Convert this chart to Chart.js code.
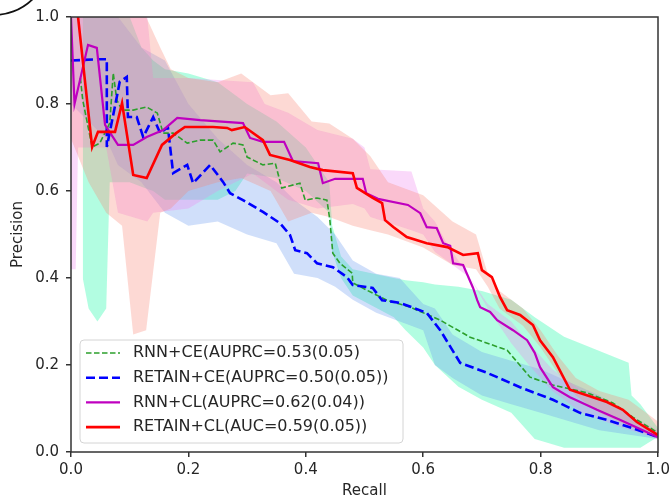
<!DOCTYPE html>
<html>
<head>
<meta charset="utf-8">
<script src="https://cdn.jsdelivr.net/npm/chart.js@4.4.1/dist/chart.umd.min.js"></script>
<style>
  html, body { margin: 0; padding: 0; background: #fff; }
  #wrap { width: 671px; height: 501px; }
</style>
</head>
<body>
<div id="wrap"><canvas id="prChart" width="671" height="501"></canvas></div>
<script>
// legend labels (same order as in the figure)
const seriesLabels = [
  "RNN+CE(AUPRC=0.53(0.05)",
  "RETAIN+CE(AUPRC=0.50(0.05))",
  "RNN+CL(AUPRC=0.62(0.04))",
  "RETAIN+CL(AUC=0.59(0.05))"
];
const xTicks = [0, 0.2, 0.4, 0.6, 0.8, 1.0];
const yTicks = [0, 0.2, 0.4, 0.6, 0.8, 1.0];

// mean curves
const rnnCeRecall = [0.016, 0.020, 0.036, 0.049, 0.066, 0.072, 0.078, 0.087, 0.106, 0.129, 0.147, 0.157, 0.174, 0.198, 0.220, 0.242, 0.254, 0.276, 0.293, 0.300, 0.327, 0.348, 0.359, 0.390, 0.399, 0.419, 0.436, 0.441, 0.446, 0.458, 0.479, 0.480, 0.504, 0.538, 0.578, 0.629, 0.680, 0.743, 0.782, 0.821, 0.879, 0.923, 0.957, 1.0];
const rnnCePrecision = [0.860, 0.809, 0.701, 0.710, 0.756, 0.871, 0.809, 0.786, 0.786, 0.793, 0.779, 0.733, 0.733, 0.710, 0.717, 0.717, 0.690, 0.710, 0.706, 0.678, 0.660, 0.664, 0.607, 0.618, 0.579, 0.584, 0.579, 0.533, 0.457, 0.434, 0.411, 0.389, 0.372, 0.349, 0.333, 0.303, 0.264, 0.234, 0.172, 0.154, 0.136, 0.113, 0.080, 0.044];

const retainCeRecall = [0.0, 0.049, 0.061, 0.061, 0.078, 0.083, 0.095, 0.097, 0.112, 0.123, 0.140, 0.152, 0.165, 0.174, 0.198, 0.208, 0.237, 0.259, 0.271, 0.293, 0.327, 0.356, 0.373, 0.382, 0.402, 0.419, 0.446, 0.470, 0.480, 0.514, 0.530, 0.560, 0.606, 0.629, 0.663, 0.709, 0.765, 0.821, 0.867, 0.913, 0.952, 1.0];
const retainCePrecision = [0.90, 0.903, 0.903, 0.701, 0.816, 0.851, 0.862, 0.770, 0.770, 0.724, 0.770, 0.733, 0.747, 0.641, 0.660, 0.618, 0.660, 0.621, 0.595, 0.579, 0.552, 0.526, 0.499, 0.464, 0.457, 0.434, 0.425, 0.402, 0.384, 0.377, 0.349, 0.343, 0.320, 0.280, 0.205, 0.182, 0.149, 0.120, 0.090, 0.074, 0.057, 0.034];

const rnnClRecall = [0.0, 0.006, 0.029, 0.044, 0.058, 0.080, 0.106, 0.129, 0.157, 0.181, 0.220, 0.293, 0.305, 0.327, 0.363, 0.378, 0.421, 0.429, 0.450, 0.497, 0.503, 0.523, 0.574, 0.595, 0.606, 0.623, 0.634, 0.646, 0.651, 0.668, 0.685, 0.692, 0.697, 0.714, 0.726, 0.753, 0.777, 0.790, 0.799, 0.821, 0.850, 0.896, 0.935, 1.0];
const rnnClPrecision = [1.0, 0.800, 0.936, 0.929, 0.752, 0.706, 0.706, 0.724, 0.740, 0.768, 0.763, 0.756, 0.722, 0.713, 0.713, 0.669, 0.664, 0.618, 0.628, 0.628, 0.595, 0.582, 0.568, 0.549, 0.517, 0.515, 0.480, 0.474, 0.434, 0.430, 0.377, 0.349, 0.333, 0.322, 0.303, 0.280, 0.257, 0.228, 0.195, 0.149, 0.126, 0.097, 0.074, 0.034];

const retainClRecall = [0.008, 0.036, 0.046, 0.075, 0.087, 0.106, 0.129, 0.155, 0.179, 0.194, 0.242, 0.266, 0.274, 0.296, 0.327, 0.339, 0.373, 0.407, 0.429, 0.480, 0.487, 0.514, 0.530, 0.535, 0.549, 0.572, 0.606, 0.641, 0.668, 0.693, 0.700, 0.717, 0.731, 0.743, 0.765, 0.787, 0.799, 0.821, 0.850, 0.889, 0.913, 0.940, 0.964, 1.0];
const retainClPrecision = [1.05, 0.701, 0.736, 0.736, 0.802, 0.637, 0.630, 0.706, 0.733, 0.747, 0.747, 0.745, 0.740, 0.747, 0.717, 0.683, 0.671, 0.655, 0.648, 0.641, 0.607, 0.584, 0.572, 0.533, 0.517, 0.494, 0.480, 0.471, 0.453, 0.457, 0.418, 0.402, 0.356, 0.326, 0.315, 0.292, 0.257, 0.218, 0.143, 0.126, 0.115, 0.097, 0.069, 0.039];

// spread bands (upper / lower)
const rnnCeBandX = [0.02, 0.03, 0.045, 0.06, 0.066, 0.1, 0.12, 0.14, 0.16, 0.2, 0.25, 0.28, 0.3, 0.35, 0.4, 0.44, 0.445, 0.46, 0.48, 0.55, 0.57, 0.6, 0.62, 0.66, 0.7, 0.75, 0.79, 0.84, 0.95, 0.955, 0.97, 1.0];
const rnnCeUpper = [1.0, 1.0, 1.0, 1.0, 1.0, 1.0, 0.93, 0.90, 0.88, 0.87, 0.85, 0.82, 0.80, 0.76, 0.70, 0.62, 0.52, 0.45, 0.42, 0.40, 0.395, 0.39, 0.385, 0.38, 0.37, 0.35, 0.31, 0.265, 0.205, 0.13, 0.11, 0.055];
const rnnCeLower = [0.40, 0.33, 0.30, 0.33, 0.62, 0.62, 0.61, 0.60, 0.58, 0.58, 0.58, 0.60, 0.64, 0.63, 0.60, 0.55, 0.46, 0.40, 0.36, 0.31, 0.28, 0.24, 0.20, 0.15, 0.12, 0.09, 0.03, 0.01, 0.01, 0.01, 0.01, 0.035];

const retainCeBandX = [0, 0.06, 0.08, 0.12, 0.16, 0.2, 0.25, 0.3, 0.35, 0.38, 0.42, 0.45, 0.48, 0.52, 0.56, 0.6, 0.62, 0.65, 0.7, 0.75, 0.8, 0.9, 1.0];
const retainCeUpper = [1.0, 1.0, 1.0, 0.93, 0.90, 0.80, 0.72, 0.66, 0.62, 0.58, 0.54, 0.50, 0.44, 0.41, 0.40, 0.34, 0.33, 0.27, 0.23, 0.21, 0.19, 0.13, 0.04];
const retainCeLower = [0.80, 0.72, 0.66, 0.62, 0.55, 0.52, 0.53, 0.50, 0.48, 0.41, 0.40, 0.38, 0.35, 0.32, 0.30, 0.28, 0.20, 0.17, 0.13, 0.11, 0.09, 0.05, 0.03];

const rnnClBandX = [0, 0.008, 0.012, 0.06, 0.08, 0.13, 0.14, 0.2, 0.25, 0.31, 0.33, 0.37, 0.42, 0.48, 0.5, 0.51, 0.58, 0.6, 0.62, 0.64, 0.68, 0.71, 0.75, 0.78, 0.82, 0.87, 0.93, 1.0];
const rnnClUpper = [1.0, 1.0, 1.0, 1.0, 1.0, 1.0, 0.86, 0.86, 0.855, 0.85, 0.80, 0.78, 0.74, 0.72, 0.70, 0.65, 0.645, 0.56, 0.53, 0.48, 0.40, 0.34, 0.30, 0.25, 0.19, 0.14, 0.10, 0.05];
const rnnClLower = [0.42, 0.42, 0.70, 0.70, 0.55, 0.53, 0.55, 0.56, 0.60, 0.64, 0.62, 0.58, 0.56, 0.57, 0.56, 0.54, 0.51, 0.50, 0.46, 0.44, 0.40, 0.33, 0.25, 0.20, 0.14, 0.09, 0.06, 0.03];

const retainClBandX = [0, 0.03, 0.06, 0.087, 0.106, 0.128, 0.152, 0.17, 0.2, 0.25, 0.29, 0.34, 0.37, 0.41, 0.44, 0.48, 0.51, 0.54, 0.6, 0.65, 0.69, 0.71, 0.73, 0.77, 0.8, 0.83, 0.86, 0.9, 0.95, 1.0];
const retainClUpper = [1.0, 1.0, 1.0, 1.0, 1.0, 1.0, 0.93, 0.88, 0.86, 0.85, 0.87, 0.82, 0.825, 0.76, 0.755, 0.72, 0.68, 0.62, 0.59, 0.53, 0.50, 0.41, 0.37, 0.33, 0.28, 0.22, 0.17, 0.14, 0.12, 0.07];
const retainClLower = [0.72, 0.62, 0.55, 0.52, 0.27, 0.28, 0.55, 0.56, 0.60, 0.62, 0.63, 0.60, 0.53, 0.55, 0.54, 0.52, 0.51, 0.50, 0.47, 0.43, 0.42, 0.38, 0.33, 0.29, 0.24, 0.18, 0.13, 0.09, 0.06, 0.03];

const lineColors = ["#2ca02c", "#0000ff", "#bf00bf", "#ff0000"];
const bandColors = ["rgba(0,250,154,0.3)", "rgba(100,149,237,0.3)", "rgba(238,130,238,0.3)", "rgba(250,128,114,0.3)"];
const lineWidths = [1.6, 2.6, 2.2, 2.6];
const lineDashes = [[5.5, 2.5], [9, 4], [], []];

const pts = (xs, ys) => xs.map((x, i) => ({ x: x, y: ys[i] }));

const bands = [
  [rnnCeBandX, rnnCeUpper, rnnCeLower],
  [retainCeBandX, retainCeUpper, retainCeLower],
  [rnnClBandX, rnnClUpper, rnnClLower],
  [retainClBandX, retainClUpper, retainClLower]
];
const curves = [
  [rnnCeRecall, rnnCePrecision],
  [retainCeRecall, retainCePrecision],
  [rnnClRecall, rnnClPrecision],
  [retainClRecall, retainClPrecision]
];

const datasets = [];
// bands: lower then upper, upper fills down to lower
bands.forEach((b, i) => {
  datasets.push({
    label: "lower" + i, data: pts(b[0], b[2]),
    showLine: true, borderWidth: 0, pointRadius: 0, fill: false, order: 20 - i
  });
  datasets.push({
    label: "upper" + i, data: pts(b[0], b[1]),
    showLine: true, borderWidth: 0, pointRadius: 0,
    fill: "-1", backgroundColor: bandColors[i], order: 20 - i
  });
});
// mean lines, red ends up on top
curves.forEach((c, i) => {
  datasets.push({
    label: seriesLabels[i], data: pts(c[0], c[1]),
    showLine: true, pointRadius: 0, fill: false,
    borderColor: lineColors[i], borderWidth: lineWidths[i], borderDash: lineDashes[i],
    tension: 0, order: 3 - i
  });
});

const frameAndLegend = {
  id: "frameAndLegend",
  afterDraw(chart) {
    const ctx = chart.ctx;
    const a = chart.chartArea;
    ctx.save();
    // axes box
    ctx.strokeStyle = "#333";
    ctx.lineWidth = 1.5;
    ctx.strokeRect(a.left, a.top, a.right - a.left, a.bottom - a.top);

    // legend box in lower left
    const bx = a.left + 9, by = 340, bw = 323, bh = 103;
    ctx.beginPath();
    ctx.roundRect(bx, by, bw, bh, 4);
    ctx.fillStyle = "rgba(255,255,255,0.85)";
    ctx.fill();
    ctx.strokeStyle = "#d4d4d4";
    ctx.lineWidth = 1;
    ctx.stroke();
    ctx.font = '16px "DejaVu Sans"';
    ctx.textBaseline = "middle";
    seriesLabels.forEach((lab, i) => {
      const y = 353 + i * 24.7;
      ctx.beginPath();
      ctx.setLineDash(lineDashes[i]);
      ctx.strokeStyle = lineColors[i];
      ctx.lineWidth = lineWidths[i];
      ctx.moveTo(bx + 6, y);
      ctx.lineTo(bx + 40, y);
      ctx.stroke();
      ctx.setLineDash([]);
      ctx.fillStyle = "#262626";
      ctx.fillText(lab, bx + 53, y);
    });

    // piece of the panel-label circle at the corner
    ctx.beginPath();
    ctx.strokeStyle = "#111";
    ctx.lineWidth = 1.8;
    ctx.arc(-6, -40, 55, 0.22 * Math.PI, 0.55 * Math.PI);
    ctx.stroke();
    ctx.restore();
  }
};

const tickFont = { family: "DejaVu Sans", size: 15 };

new Chart(document.getElementById("prChart").getContext("2d"), {
  type: "scatter",
  data: { datasets: datasets },
  options: {
    responsive: false,
    animation: false,
    devicePixelRatio: 1,
    layout: { padding: { top: 17, right: 13, left: 0, bottom: 0 } },
    plugins: {
      legend: { display: false },
      tooltip: { enabled: false }
    },
    scales: {
      x: {
        type: "linear", min: 0, max: 1,
        afterBuildTicks: s => { s.ticks = xTicks.map(v => ({ value: v })); },
        afterFit: s => { s.height = 49; s.paddingRight = 0; s.paddingLeft = 0; },
        ticks: { font: tickFont, color: "#262626", padding: 4, callback: v => v.toFixed(1) },
        grid: { drawOnChartArea: false, drawTicks: true, tickLength: 5, color: "#333", lineWidth: 1.5 },
        border: { display: false },
        title: { display: true, text: "Recall", font: tickFont, color: "#262626", padding: { top: 0, bottom: 1 } }
      },
      y: {
        type: "linear", min: 0, max: 1,
        afterBuildTicks: s => { s.ticks = yTicks.map(v => ({ value: v })); },
        afterFit: s => { s.width = 71; s.paddingTop = 0; s.paddingBottom = 0; },
        ticks: { font: tickFont, color: "#262626", padding: 7, callback: v => v.toFixed(1) },
        grid: { drawOnChartArea: false, drawTicks: true, tickLength: 5, color: "#333", lineWidth: 1.5 },
        border: { display: false },
        title: { display: true, text: "Precision", font: tickFont, color: "#262626", padding: { top: 9, bottom: 0 } }
      }
    }
  },
  plugins: [frameAndLegend]
});
</script>
</body>
</html>
